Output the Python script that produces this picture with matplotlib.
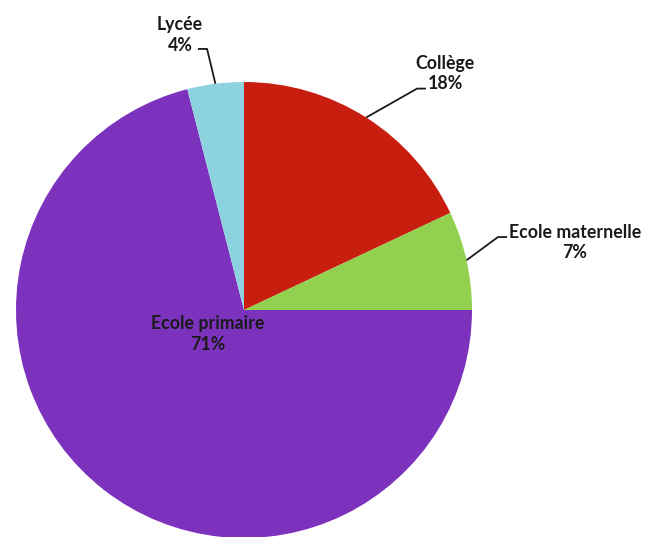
import numpy as np
import matplotlib
matplotlib.use('Agg')
import matplotlib.pyplot as plt

# Data
# ----------------------------------------------------------------------------------------------
labels = ['Collège', 'Ecole maternelle', 'Ecole primaire', 'Lycée']
shares = [18, 7, 71, 4]  # [%]
colors = ['#C71E10', '#92D050', '#7D32BE', '#8DD3DF']

# Label placement (data units, pie radius = 1)
label_pos = {
    'Collège': (0.882, 1.037),
    'Ecole maternelle': (1.452, 0.296),
    'Ecole primaire': (-0.158, -0.105),
    'Lycée': (-0.281, 1.206),
}
# leader line: elbow point and end point near the text
leader = {
    'Collège': [(0.759, 0.971), (0.798, 0.971)],
    'Ecole maternelle': [(1.114, 0.320), (1.154, 0.320)],
    'Lycée': [(-0.162, 1.145), (-0.202, 1.145)],
}

plt.rcParams['font.family'] = ['Lato', 'DejaVu Sans']

W, H = 657, 537
fig = plt.figure(figsize=(W/100, H/100), dpi=100)
cx, cy, r = 244, 310, 228  # pie centre and radius [px]
ax = fig.add_axes([(cx-r)/W, (H-cy-r)/H, 2*r/W, 2*r/H])

wedges, _ = ax.pie(shares, colors=colors, startangle=90, counterclock=False,
                   radius=1, wedgeprops=dict(linewidth=0))
ax.set_xlim(-1, 1)
ax.set_ylim(-1, 1)
ax.axis('off')

for w, lab, val in zip(wedges, labels, shares):
    txt = lab + '\n' + str(val) + '%'
    tx, ty = label_pos[lab]
    ax.text(tx, ty, txt, ha='center', va='center', fontsize=12.8,
            fontweight='bold', color='#1a1a1a', linespacing=1.25)
    if lab in leader:
        mid = np.deg2rad((w.theta1 + w.theta2) / 2)
        pts = [(np.cos(mid), np.sin(mid))] + leader[lab]
        xs, ys = zip(*pts)
        ax.plot(xs, ys, color='#1a1a1a', linewidth=1.3, clip_on=False,
                solid_capstyle='butt')

fig.savefig('out.png', dpi=100)
